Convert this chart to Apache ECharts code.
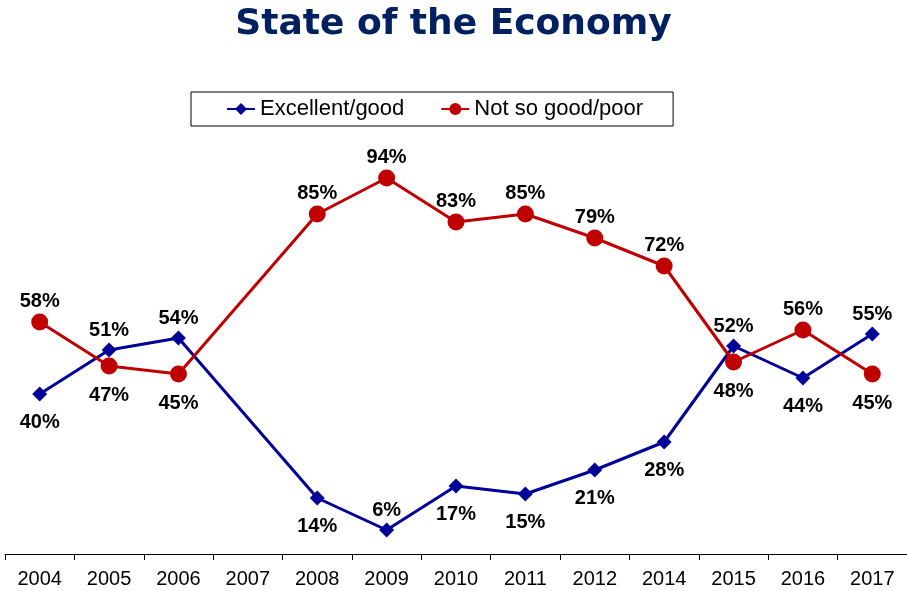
<!DOCTYPE html>
<html>
<head>
<meta charset="utf-8">
<script src="https://cdn.jsdelivr.net/npm/echarts@6/dist/echarts.min.js"></script>
<style>
  html, body { margin: 0; padding: 0; background: #fff; }
  #chart { width: 907px; height: 591px; }
</style>
</head>
<body>
<div id="chart"></div>
<script>
// categories (2013 missing from the survey, 2007 has no value)
var years = ["2004", "2005", "2006", "2007", "2008", "2009", "2010", "2011", "2012", "2014", "2015", "2016", "2017"];
var excellentGood = [40, 51, 54, null, 14, 6, 17, 15, 21, 28, 52, 44, 55];
var notSoGood = [58, 47, 45, null, 85, 94, 83, 85, 79, 72, 48, 56, 45];

// where each value label sits
var blueLabelPos = ["bottom", "top", "top", "top", "bottom", "top", "bottom", "bottom", "bottom", "bottom", "top", "bottom", "top"];
var redLabelPos = ["top", "bottom", "bottom", "top", "top", "top", "top", "top", "top", "top", "bottom", "top", "bottom"];

function withLabels(values, pos) {
  return values.map(function (v, i) {
    return {
      value: v,
      label: { position: pos[i], distance: pos[i] == "top" ? 2 : 11 }
    };
  });
}

var myChart = echarts.init(document.getElementById("chart"));
myChart.setOption({
  animation: false,
  title: {
    text: "State of the Economy",
    left: "center",
    top: 2,
    textStyle: {
      fontFamily: "DejaVu Sans",
      fontWeight: "bold",
      fontSize: 36,
      color: "#002060"
    }
  },
  legend: {
    left: 191,
    top: 92,
    padding: [6, 30, 6, 35],
    itemGap: 36,
    itemWidth: 28,
    itemHeight: 15,
    borderColor: "#000",
    borderWidth: 1,
    textStyle: {
      fontFamily: "Liberation Sans",
      fontSize: 22,
      color: "#000"
    },
    data: ["Excellent/good", "Not so good/poor"]
  },
  grid: {
    left: 5,
    right: 0,
    top: 154,
    bottom: 37
  },
  xAxis: {
    type: "category",
    data: years,
    boundaryGap: true,
    axisLine: { lineStyle: { color: "#000", width: 1 } },
    axisTick: { show: true, length: 6, lineStyle: { color: "#000" } },
    axisLabel: {
      color: "#000",
      fontFamily: "Liberation Sans",
      fontSize: 20,
      margin: 15
    }
  },
  yAxis: {
    type: "value",
    min: 0,
    max: 100,
    show: false
  },
  series: [
    {
      name: "Excellent/good",
      type: "line",
      data: withLabels(excellentGood, blueLabelPos),
      connectNulls: true,
      symbol: "diamond",
      symbolSize: 15,
      itemStyle: { color: "#000099" },
      lineStyle: { color: "#000099", width: 3 },
      label: {
        show: true,
        formatter: "{c}%",
        color: "#000",
        fontFamily: "Liberation Sans",
        fontWeight: "bold",
        fontSize: 20
      }
    },
    {
      name: "Not so good/poor",
      type: "line",
      data: withLabels(notSoGood, redLabelPos),
      connectNulls: true,
      symbol: "circle",
      symbolSize: 17,
      itemStyle: { color: "#C00000" },
      lineStyle: { color: "#C00000", width: 3 },
      label: {
        show: true,
        formatter: "{c}%",
        color: "#000",
        fontFamily: "Liberation Sans",
        fontWeight: "bold",
        fontSize: 20
      }
    }
  ]
});
</script>
</body>
</html>
